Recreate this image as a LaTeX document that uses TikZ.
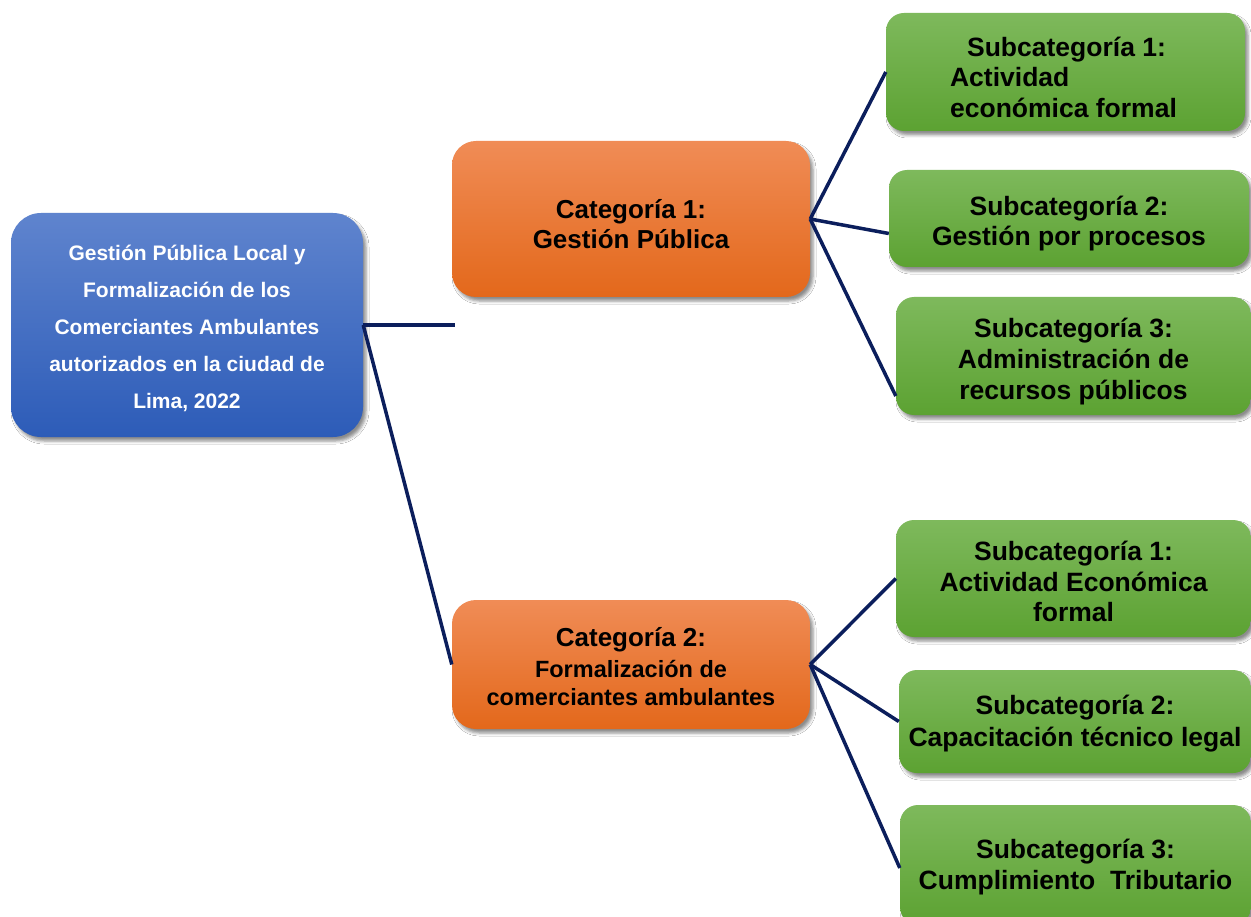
\documentclass[tikz,border=0pt]{standalone}
\usepackage{fontspec}
\setmainfont{Liberation Sans}
\usetikzlibrary{shadows.blur,calc}
\definecolor{bluetop}{HTML}{5F84CE}
\definecolor{bluebot}{HTML}{2D5CB8}
\definecolor{ortop}{HTML}{F08C56}
\definecolor{orbot}{HTML}{E3681B}
\definecolor{grtop}{HTML}{7EB95C}
\definecolor{grbot}{HTML}{5CA232}
\definecolor{navy}{HTML}{0B1E5C}
\newcommand{\topstrut}[1]{\rule{0pt}{#1}}
\begin{document}
\begin{tikzpicture}[x=1pt,y=-1pt,
  basebox/.style={inner sep=0pt, align=center, font=\bfseries,
    blur shadow={shadow xshift=3pt, shadow yshift=-4pt, shadow blur radius=3pt, shadow opacity=45}},
  bluebox/.style={basebox, rounded corners=30pt, top color=bluetop, bottom color=bluebot, text=white},
  orbox/.style={basebox, rounded corners=24pt, top color=ortop, bottom color=orbot, text=black},
  grbox/.style={basebox, rounded corners=18pt, top color=grtop, bottom color=grbot, text=black},
  conn/.style={draw=navy, line width=3.5pt}]
\useasboundingbox[fill=white] (0,0) rectangle (1251,917);

\node[bluebox, minimum width=352pt, minimum height=224pt,
  font=\bfseries\fontsize{21}{37}\selectfont] (root) at (187,325)
  {\topstrut{22pt}Gestión Pública Local y\\Formalización de los\\Comerciantes Ambulantes\\autorizados en la ciudad de\\Lima, 2022};

\node[orbox, minimum width=358pt, minimum height=156pt,
  font=\bfseries\fontsize{26}{30}\selectfont] (cat1) at (631,219)
  {\topstrut{30pt}Categoría 1:\\Gestión Pública};

\node[orbox, minimum width=358pt, minimum height=129pt,
  font=\bfseries\fontsize{23.5}{28}\selectfont] (cat2) at (631,664.5)
  {{\fontsize{26}{28}\selectfont\topstrut{24pt}Categoría 2:}\\[3pt]Formalización de\\comerciantes ambulantes};

\node[grbox, minimum width=359pt, minimum height=118pt, align=left,
  font=\bfseries\fontsize{26.5}{30.5}\selectfont] (s11) at (1065.5,72)
  {\topstrut{30pt}\hspace*{17pt}Subcategoría 1:\\Actividad\\económica formal\hspace*{4pt}};

\node[grbox, minimum width=360pt, minimum height=97pt,
  font=\bfseries\fontsize{26.5}{30.5}\selectfont] (s12) at (1069,218.5)
  {\topstrut{30pt}Subcategoría 2:\\Gestión por procesos};

\node[grbox, minimum width=355pt, minimum height=118pt,
  font=\bfseries\fontsize{26.5}{31}\selectfont] (s13) at (1073.5,356)
  {\topstrut{30pt}Subcategoría 3:\\Administración de\\recursos públicos};

\node[grbox, minimum width=355pt, minimum height=117pt,
  font=\bfseries\fontsize{26.5}{30.5}\selectfont] (s21) at (1073.5,578.5)
  {\topstrut{26pt}Subcategoría 1:\\Actividad Económica\\formal};

\node[grbox, minimum width=352pt, minimum height=103pt,
  font=\bfseries\fontsize{26.5}{32}\selectfont] (s22) at (1075,721.5)
  {\topstrut{24pt}Subcategoría 2:\\Capacitación técnico legal};

\node[grbox, minimum width=351pt, minimum height=120pt,
  font=\bfseries\fontsize{26.5}{31}\selectfont] (s23) at (1075.5,865)
  {\topstrut{24pt}Subcategoría 3:\\Cumplimiento~ Tributario};

\coordinate (stub) at (455,325);
\draw[conn] (root.east) -- (stub);
\draw[conn] (root.east) -- (cat2.west);
\draw[conn] (cat1.east) -- (s11.west);
\draw[conn] (cat1.east) -- ([yshift=-15pt]s12.west);
\draw[conn] (cat1.east) -- ([yshift=-40pt]s13.west);
\draw[conn] (cat2.east) -- (s21.west);
\draw[conn] (cat2.east) -- (s22.west);
\draw[conn] (cat2.east) -- ([yshift=-3pt]s23.west);
\end{tikzpicture}
\end{document}
